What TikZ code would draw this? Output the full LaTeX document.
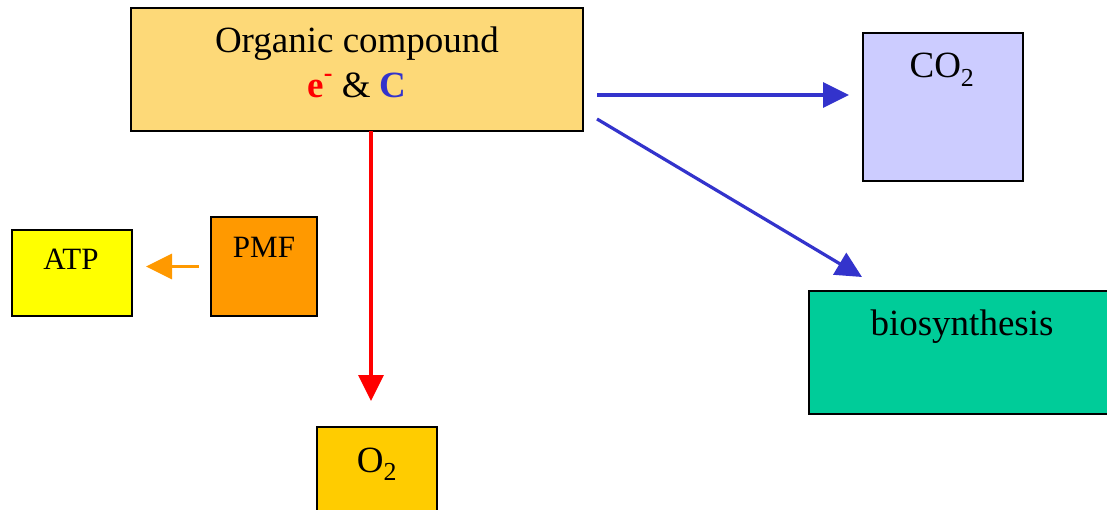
\documentclass[tikz,border=0pt]{standalone}
\usepackage{fontspec}
\setmainfont{Liberation Serif}
\usetikzlibrary{arrows.meta,calc}
\definecolor{orgfill}{HTML}{FDD978}
\definecolor{co2fill}{HTML}{CCCCFF}
\definecolor{biofill}{HTML}{00CC99}
\definecolor{atpfill}{HTML}{FFFF00}
\definecolor{pmffill}{HTML}{FF9900}
\definecolor{o2fill}{HTML}{FFCC00}
\definecolor{myblue}{HTML}{3333CC}
\definecolor{myred}{HTML}{FF0000}
\definecolor{myorange}{HTML}{FF9900}
\tikzset{
  box/.style={draw=black, line width=1.8pt, inner sep=0pt, outer sep=0pt},
  txt/.style={anchor=base, inner sep=0pt, font=\fontsize{37}{44}\selectfont},
  smalltxt/.style={anchor=base, inner sep=0pt, font=\fontsize{31}{37}\selectfont},
  arr/.style={line width=3.2pt, -{Triangle[length=26pt,width=25pt]}},
}
\begin{document}
\begin{tikzpicture}[x=1pt,y=-1pt]
\clip (0,0) rectangle (1107,510);
\fill[white] (0,0) rectangle (1107,510);
% boxes
\node[box, fill=orgfill, minimum width=452pt, minimum height=123pt] (org) at (357,69.5) {};
\node[box, fill=co2fill, minimum width=160pt, minimum height=148pt] (co2) at (943,107) {};
\node[box, fill=biofill, minimum width=304pt, minimum height=123pt] (bio) at (961,352.5) {};
\node[box, fill=atpfill, minimum width=120pt, minimum height=86pt] (atp) at (72,273) {};
\node[box, fill=pmffill, minimum width=106pt, minimum height=99pt] (pmf) at (264,266.5) {};
\node[box, fill=o2fill, minimum width=120pt, minimum height=120pt] (o2) at (377,487) {};
% texts
\node[txt] (orgt1) at (357,53) {Organic compound};
\node[txt] (orgt2) at (357,98) {\textbf{\textcolor{myred}{e\raisebox{0.45em}{\fontsize{26}{26}\selectfont -}}} \& \textbf{\textcolor{myblue}{C}}};
\node[txt] (co2t) at (942,78) {CO\textsubscript{2}};
\node[txt] (biot) at (962,335) {biosynthesis};
\node[smalltxt] (atpt) at (71,270) {ATP};
\node[smalltxt] (pmft) at (264,258) {PMF};
\node[txt] (o2t) at (377,472) {O\textsubscript{2}};
% connectors
\draw[arr, myred] ([xshift=14pt]org.south) -- ($(o2.north)+(-6,-26)$);
\draw[arr, myblue] ($(org.east)+(14,25.5)$) -- ($(co2.west)+(-14,-12)$);
\draw[arr, myblue] ($(org.east)+(14,49.5)$) -- ($(bio.north west)+(53,-14)$);
\draw[arr, myorange] ($(pmf.west)+(-12,0)$) -- ($(atp.east |- pmf.west)+(14,0)$);
\end{tikzpicture}
\end{document}
